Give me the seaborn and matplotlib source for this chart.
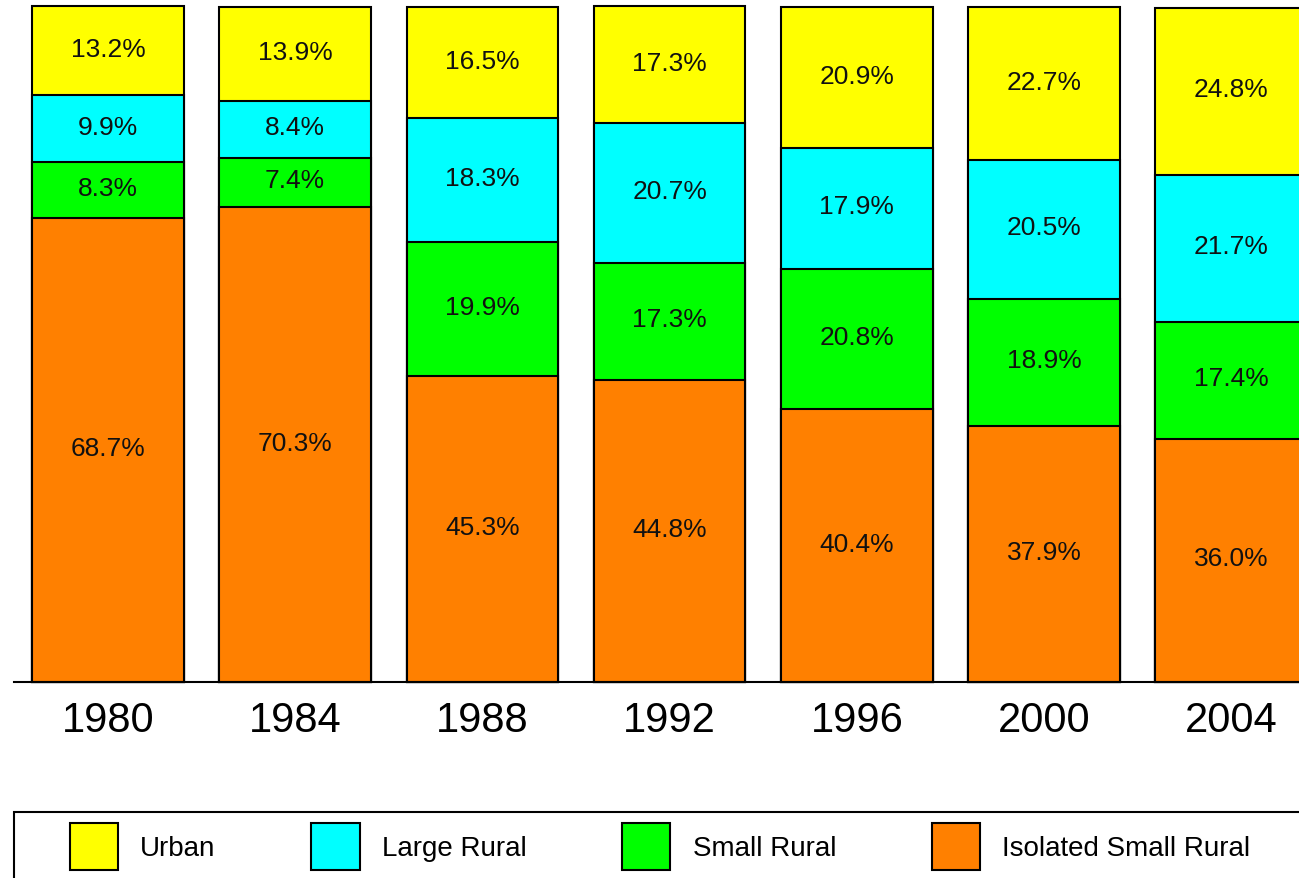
import matplotlib
matplotlib.use("Agg")
import matplotlib.pyplot as plt
import seaborn as sns
import pandas as pd
from matplotlib.patches import Patch, Rectangle

years = ["1980", "1984", "1988", "1992", "1996", "2000", "2004"]
isolated = [68.7, 70.3, 45.3, 44.8, 40.4, 37.9, 36.0]
small_rural = [8.3, 7.4, 19.9, 17.3, 20.8, 18.9, 17.4]
large_rural = [9.9, 8.4, 18.3, 20.7, 17.9, 20.5, 21.7]
urban = [13.2, 13.9, 16.5, 17.3, 20.9, 22.7, 24.8]

# bottom -> top order of the stack
stack_order = ["Isolated Small Rural", "Small Rural", "Large Rural", "Urban"]
legend_order = ["Urban", "Large Rural", "Small Rural", "Isolated Small Rural"]
colors = {"Urban": "#ffff00", "Large Rural": "#00ffff",
          "Small Rural": "#00ff00", "Isolated Small Rural": "#ff8000"}

df = pd.DataFrame({"Year": years, "Isolated Small Rural": isolated,
                   "Small Rural": small_rural, "Large Rural": large_rural,
                   "Urban": urban})
cum = df[stack_order].cumsum(axis=1)

sns.set_style("white")
plt.rcParams["font.family"] = ["Liberation Sans", "DejaVu Sans"]
plt.rcParams["text.color"] = "black"

W, H = 1299, 879
fig = plt.figure(figsize=(W / 100, H / 100), dpi=100)
ax = fig.add_axes([14 / W, 1 - 683 / H, 1 - 14 / W, (683 - 8) / H])

# draw tallest cumulative bars first so the smaller ones sit on top
for cat in reversed(stack_order):
    sns.barplot(x=df["Year"], y=cum[cat], color=colors[cat], saturation=1,
                edgecolor="black", linewidth=1.5, width=0.81,
                errorbar=None, ax=ax)

for cat in stack_order:
    for i, (v, top) in enumerate(zip(df[cat], cum[cat])):
        ax.text(i, top - v / 2 + 0.3, f"{v:.1f}%", ha="center", va="center",
                fontsize=19, color="#111111")

for p in ax.patches:
    p.set_clip_on(False)

ax.set_xlim(-0.502, 6.362)
ax.set_ylim(0, 100)
ax.set_yticks([])
ax.set_xlabel("")
ax.set_ylabel("")
for s in ["top", "right", "left"]:
    ax.spines[s].set_visible(False)
ax.spines["bottom"].set_color("black")
ax.spines["bottom"].set_linewidth(1.5)
ax.tick_params(axis="x", length=0, labelsize=30, pad=13, colors="black")

handles = [Patch(facecolor=colors[c], edgecolor="black", linewidth=1.5)
           for c in legend_order]
fig.legend(handles, legend_order, loc="upper left",
           bbox_to_anchor=(70 / W, 1 - 824 / H), ncol=4, frameon=False,
           fontsize=20, labelcolor="black", handlelength=1.73,
           handleheight=2.2, handletextpad=0.8, columnspacing=3.45,
           borderpad=0, borderaxespad=0)
fig.add_artist(Rectangle((14 / W, 1 - 920 / H), 1.2, (920 - 813) / H,
                         transform=fig.transFigure, fill=False,
                         edgecolor="black", linewidth=1.5))

fig.savefig("out.png", dpi=100)
